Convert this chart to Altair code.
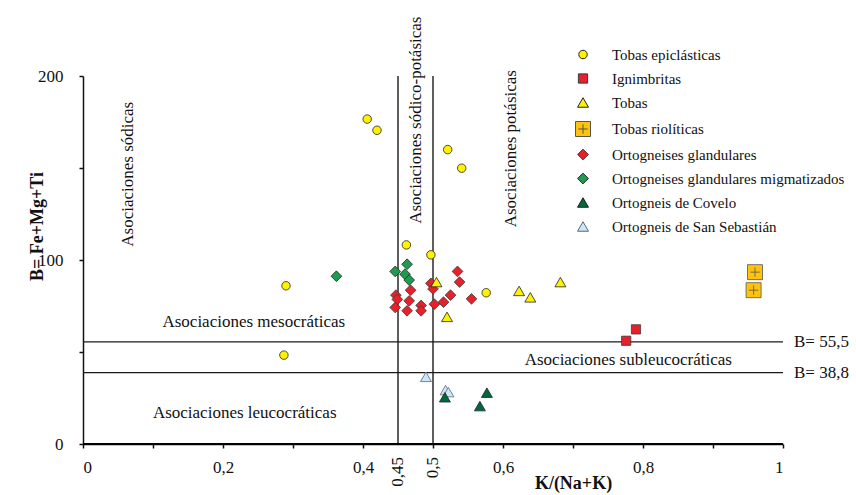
import altair as alt
import pandas as pd

# --- series: K/(Na+K) ratio and B = Fe+Mg+Ti ---------------------------------
series_names = [
    "Tobas epiclásticas",
    "Ignimbritas",
    "Tobas",
    "Tobas riolíticas",
    "Ortogneises glandulares",
    "Ortogneises glandulares migmatizados",
    "Ortogneis de Covelo",
    "Ortogneis de San Sebastián",
]

tobas_epi_k = [0.406, 0.420, 0.521, 0.541, 0.462, 0.497, 0.576, 0.290, 0.287]
tobas_epi_b = [176.6, 170.5, 160.0, 149.9, 108.2, 102.8, 82.2, 86.0, 48.3]

ignimbritas_k = [0.790, 0.776]
ignimbritas_b = [62.3, 56.1]

tobas_k = [0.505, 0.520, 0.623, 0.639, 0.682]
tobas_b = [88.0, 69.1, 83.2, 79.7, 88.0]

riolitas_k = [0.960, 0.958]
riolitas_b = [93.4, 83.6]

glandulares_k = [0.447, 0.449, 0.446, 0.468, 0.466, 0.463, 0.483, 0.483,
                 0.497, 0.500, 0.502, 0.515, 0.525, 0.535, 0.538, 0.555]
glandulares_b = [80.9, 78.6, 74.2, 83.6, 77.8, 72.4, 75.3, 72.4,
                 87.3, 84.3, 76.0, 77.1, 80.9, 93.8, 88.0, 78.9]

migmatizados_k = [0.362, 0.446, 0.463, 0.460, 0.466]
migmatizados_b = [91.2, 93.8, 97.7, 92.3, 89.1]

covelo_k = [0.517, 0.577, 0.567]
covelo_b = [25.4, 27.9, 20.6]

sansebastian_k = [0.490, 0.518, 0.522]
sansebastian_b = [36.5, 29.3, 28.2]

# --- classification limits ----------------------------------------------------
ratio_limits = [0.45, 0.5]
b_limits = [55.5, 38.8]

# field names (anchor points in data units)
vertical_zones = ["Asociaciones sódicas", "Asociaciones sódico-potásicas", "Asociaciones potásicas"]
vertical_zone_k = [0.064, 0.475, 0.612]
vertical_zone_b = [146.6, 176.0, 160.5]

horizontal_zones = ["Asociaciones mesocráticas", "Asociaciones subleucocráticas", "Asociaciones leucocráticas"]
horizontal_zone_k = [0.244, 0.779, 0.231]
horizontal_zone_b = [66.2, 45.6, 17.0]

# --- styling per series -------------------------------------------------------
fills = ["#FFF200", "#E8202A", "#FFF200", "#FFC20E", "#E8202A", "#1E9B4F", "#00693E", "#CFE6F7"]
strokes = ["#222222", "#3a3a3a", "#222222", "#555555", "#3a3a3a", "#222222", "#1f1f1f", "#55687a"]
shapes = ["circle", "square", "triangle-up",
          "M-1,-1H1V1H-1Z M0,-0.62V0.62 M-0.62,0H0.62",
          "diamond", "diamond", "triangle-up", "triangle-up"]
sizes = [72, 85, 120, 225, 115, 115, 120, 120]

all_k = [tobas_epi_k, ignimbritas_k, tobas_k, riolitas_k,
         glandulares_k, migmatizados_k, covelo_k, sansebastian_k]
all_b = [tobas_epi_b, ignimbritas_b, tobas_b, riolitas_b,
         glandulares_b, migmatizados_b, covelo_b, sansebastian_b]

# painting order (later rows are drawn on top)
draw_order = [4, 5, 7, 6, 0, 1, 2, 3]
rows = []
for i in draw_order:
    for k, b in zip(all_k[i], all_b[i]):
        rows.append({"serie": series_names[i], "k": k, "b": b})
points_df = pd.DataFrame(rows)

FONT = "Liberation Serif, Times New Roman, serif"
xscale = alt.Scale(domain=[0, 1], nice=False, zero=False)
yscale = alt.Scale(domain=[0, 200], nice=False, zero=False)

# one axis definition shared by every layer so the layers merge cleanly
x_axis = alt.Axis(
    orient="bottom",
    domain=True,
    domainColor="#111",
    domainWidth=1.5,
    values=[i / 10 for i in range(11)],
    labelExpr="round(datum.value * 10) % 2 == 0 ? replace(toString(round(datum.value * 10) / 10), '.', ',') : ''",
    title="K/(Na+K)",
    titleX=490, titleY=39, titleBaseline="middle", titleAlign="center",
    labelPadding=11,
)
y_axis = alt.Axis(
    orient="left",
    domain=True,
    values=[0, 50, 100, 150, 200],
    labelExpr="datum.value % 100 == 0 ? datum.label : ''",
    title="B= Fe+Mg+Ti",
    titleX=-46, titleY=150, titleBaseline="middle", titleAlign="center", titleAngle=270,
    labelPadding=16,
)


def X(field):
    return alt.X(field, scale=xscale, axis=x_axis)


def Y(field):
    return alt.Y(field, scale=yscale, axis=y_axis)


points = alt.Chart(points_df).mark_point(filled=True, opacity=1, strokeWidth=0.8).encode(
    x=X("k:Q"),
    y=Y("b:Q"),
    color=alt.Color("serie:N", scale=alt.Scale(domain=series_names, range=fills),
                    legend=alt.Legend(title=None, orient="none", legendX=492, legendY=-29,
                                      labelOffset=21, rowPadding=8, padding=0,
                                      labelLimit=400)),
    shape=alt.Shape("serie:N", scale=alt.Scale(domain=series_names, range=shapes)),
    stroke=alt.Stroke("serie:N", scale=alt.Scale(domain=series_names, range=strokes)),
    size=alt.Size("serie:N", scale=alt.Scale(type="ordinal", domain=series_names, range=sizes), legend=None),
)

# baseline of the K/(Na+K) axis, painted last so nothing sits over it
baseline = alt.Chart(pd.DataFrame({"b": [0]})).mark_rule(color="#000000", strokeWidth=1.8).encode(y=Y("b:Q"))

vdf = pd.DataFrame({"k": ratio_limits,
                    "txt": [str(v).replace(".", ",") for v in ratio_limits]})
vrules = alt.Chart(vdf).mark_rule(color="#1a1a1a", strokeWidth=1.4).encode(x=X("k:Q"))
vlabels = alt.Chart(vdf).mark_text(angle=270, align="right", baseline="middle", dx=-13,
                                   fontSize=17, font=FONT, color="#111").encode(
    x=X("k:Q"),
    y=alt.YDatum(0, scale=yscale, axis=y_axis),
    text="txt:N",
)

hdf = pd.DataFrame({"b": b_limits, "txt": [("B= %s" % v).replace(".", ",") for v in b_limits]})
hrules = alt.Chart(hdf).mark_rule(color="#1a1a1a", strokeWidth=1.4).encode(y=Y("b:Q"))
hlabels = alt.Chart(hdf).mark_text(align="left", baseline="middle", dx=11, fontSize=17,
                                   font=FONT, color="#111").encode(
    x=alt.XDatum(1, scale=xscale, axis=x_axis),
    y=Y("b:Q"),
    text="txt:N",
)

vz = pd.DataFrame({"txt": vertical_zones, "k": vertical_zone_k, "b": vertical_zone_b})
vz_text = alt.Chart(vz).mark_text(angle=270, align="center", baseline="middle", fontSize=17,
                                  font=FONT, color="#111").encode(
    x=X("k:Q"), y=Y("b:Q"), text="txt:N",
)

hz = pd.DataFrame({"txt": horizontal_zones, "k": horizontal_zone_k, "b": horizontal_zone_b})
hz_text = alt.Chart(hz).mark_text(align="center", baseline="middle", fontSize=17,
                                  font=FONT, color="#111").encode(
    x=X("k:Q"), y=Y("b:Q"), text="txt:N",
)

chart = alt.layer(vrules, vlabels, hrules, hlabels, vz_text, hz_text, points, baseline).properties(
    width=700, height=368,
    padding={"left": 83, "top": 76, "right": 73, "bottom": 51},
    autosize=alt.AutoSizeParams(type="none"),
    background="white",
).configure_view(
    stroke=None
).configure_axis(
    grid=False,
    labelFont=FONT, labelFontSize=17, labelColor="#111",
    titleFont=FONT, titleFontSize=18, titleFontWeight="bold", titleColor="#111",
    domainColor="#111", domainWidth=1.5, tickColor="#111", tickWidth=1.5, tickSize=4,
).configure_legend(
    labelFont=FONT, labelFontSize=15, labelColor="#111",
    symbolSize=90, symbolStrokeWidth=1,
)

chart.save("out.html", embed_options={"renderer": "svg", "actions": False})
